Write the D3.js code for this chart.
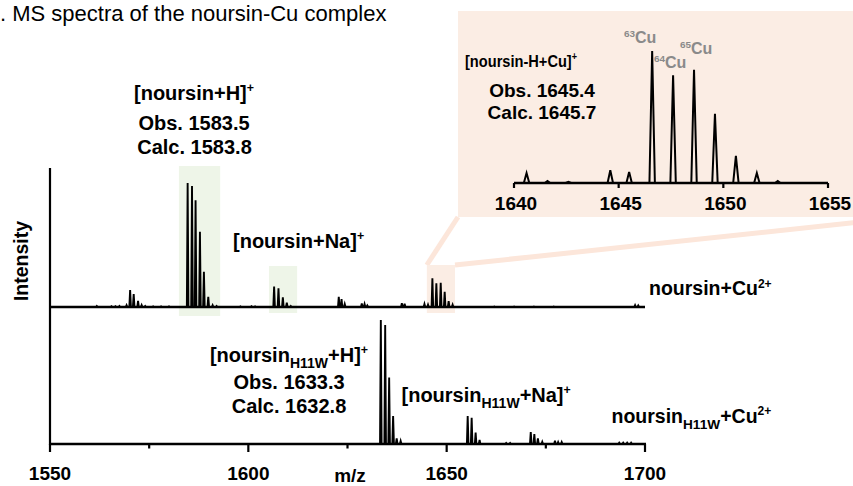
<!DOCTYPE html>
<html><head><meta charset="utf-8">
<script src="https://cdn.jsdelivr.net/npm/d3@7"></script>
<style>
body{margin:0;background:#fff}
svg{display:block}
text{font-family:"Liberation Sans",Arial,Helvetica,sans-serif}
</style>
</head><body>
<svg id="c" width="853" height="486"></svg>
<script>
// ---------------- data ----------------
const xMajorTicks = [1550, 1600, 1650, 1700];
const xMinorTicks = [1575, 1625, 1675];
const insetTicks = [1640, 1645, 1650, 1655];

// noursin + Cu2+ (upper trace), relative intensity
const topMz  = [1561.8,1565.5,1566.5,1567.5,1569.3,1570.2,1571.1,1572.2,1573.1,1574.0,1576.0,1578.0,1580.0,
                1584.7,1585.8,1586.7,1587.8,1588.8,1589.9,1591.0,1592.0,1598.0,1600.8,1601.7,
                1606.5,1607.6,1608.7,1609.7,1610.7,1622.8,1623.5,1624.3,1628.6,1629.3,1630.0,1638.7,1639.4,
                1644.4,1645.3,1646.4,1647.4,1648.5,1649.5,1650.5,1651.5,1662.0,1667.0,1672.0,1677.0,1697.5,1698.3];
const topInt = [0.8,0.6,0.6,0.8,1.5,13.7,10.5,5.0,1.6,0.8,0.5,0.5,0.5,
                100,97.5,86,60.7,28.4,8.3,1.5,0.8,0.5,0.6,0.5,
                16.4,15.0,7.8,3.5,0.8,8.3,6.4,2.4,2.8,2.4,1.2,3.0,2.7,
                2.4,1.9,23.1,19.1,19.6,12.3,4.8,1.9,0.4,0.4,0.4,0.4,1.5,1.2];

// noursin H11W + Cu2+ (lower trace)
const botMz  = [1633.4,1634.5,1635.5,1636.5,1637.4,1638.4,1655.3,1656.3,1657.3,1658.3,1665.0,1666.0,
                1671.2,1672.1,1673.0,1674.1,1677.3,1678.1,1679.0,1693.5,1694.5,1695.5,1696.5];
const botInt = [99.6,95.6,53.3,22.5,4.6,2.4,22.5,21.1,9.1,3.2,0.8,0.8,
                9.6,8.0,4.6,1.8,2.7,1.6,1.6,1.0,1.0,1.0,1.0];

// inset: [noursin-H+Cu]+ isotope pattern
const insetMz  = [1640.6,1641.6,1642.6,1644.6,1645.5,1646.6,1647.6,1648.6,1649.6,1650.6,1651.6,1652.6];
const insetInt = [7.6,1.5,0.8,9.6,8.3,100,81.6,85.8,52.5,20.5,7.6,1.5];

// highlighted m/z windows
const greenBoxes = [[1582.5, 1592.9], [1605.2, 1612.3]];
const peachBox = [1645.0, 1652.1];

// ---------------- drawing ----------------
const svg = d3.select("#c");
const BLACK = "#000";
const PEACH = "#fbede4";
const PEACH_LINE = "#fce6da";
const GREEN = "#eef5e8";
const GREY = "#8a8a8a";

const x = d3.scaleLinear().domain([1550, 1700]).range([50, 645]);
const yTop = d3.scaleLinear().domain([0, 112]).range([307, 168]);
const yBot = d3.scaleLinear().domain([0, 110]).range([444, 307]);
const xi = d3.scaleLinear().domain([1640, 1655]).range([514, 828]);
const yi = d3.scaleLinear().domain([0, 100]).range([183, 51]);

function richText(g, px, py, parts, fs, opts = {}) {
  const t = g.append("text")
    .attr("x", px).attr("y", py)
    .attr("font-size", fs)
    .attr("font-weight", opts.weight || "bold")
    .attr("fill", opts.fill || BLACK)
    .attr("text-anchor", opts.anchor || "start");
  let off = 0;
  parts.forEach(p => {
    const s = typeof p === "string" ? [p, ""] : p;
    let target = 0, size = fs;
    if (s[1] === "sup") { target = -fs * 0.38; size = fs * 0.62; }
    if (s[1] === "sub") { target = fs * 0.3; size = fs * 0.7; }
    t.append("tspan").attr("font-size", size).attr("dy", target - off).text(s[0]);
    off = target;
  });
  return t;
}

// inset background + connectors
const gBack = svg.append("g");
gBack.append("rect").attr("x", 458).attr("y", 11).attr("width", 420).attr("height", 206).attr("fill", PEACH);
const pbTop = 265;
gBack.append("line").attr("x1", x(peachBox[0])).attr("y1", pbTop).attr("x2", 458).attr("y2", 217)
  .attr("stroke", PEACH_LINE).attr("stroke-width", 5);
gBack.append("line").attr("x1", x(peachBox[1])).attr("y1", pbTop).attr("x2", 870).attr("y2", 221)
  .attr("stroke", PEACH_LINE).attr("stroke-width", 5);
gBack.append("rect").attr("x", x(peachBox[0])).attr("y", pbTop)
  .attr("width", x(peachBox[1]) - x(peachBox[0])).attr("height", 313 - pbTop).attr("fill", PEACH);

// green highlight boxes
const gTops = [166, 266];
greenBoxes.forEach((b, i) => {
  gBack.append("rect").attr("x", x(b[0])).attr("y", gTops[i])
    .attr("width", x(b[1]) - x(b[0])).attr("height", (i === 0 ? 316 : 313) - gTops[i]).attr("fill", GREEN);
});

// spectrum path builder
function spectrumPath(mz, inten, xs, ys, x0, x1, w) {
  const idx = d3.range(mz.length).sort((a, b) => mz[a] - mz[b]);
  const p = d3.path();
  p.moveTo(xs(x0), ys(0));
  idx.forEach(i => {
    p.lineTo(xs(mz[i] - w), ys(0));
    p.lineTo(xs(mz[i]), ys(inten[i]));
    p.lineTo(xs(mz[i] + w), ys(0));
  });
  p.lineTo(xs(x1), ys(0));
  return p.toString();
}

// axes
const gAx = svg.append("g");
gAx.append("line").attr("x1", x(1550)).attr("x2", x(1550)).attr("y1", 168).attr("y2", yBot(0) + 1)
  .attr("stroke", BLACK).attr("stroke-width", 2.2);
gAx.append("line").attr("x1", x(1550) - 1).attr("x2", x(1700) + 1).attr("y1", yBot(0)).attr("y2", yBot(0))
  .attr("stroke", BLACK).attr("stroke-width", 2.5);
xMajorTicks.forEach(v => {
  gAx.append("line").attr("x1", x(v)).attr("x2", x(v)).attr("y1", yBot(0)).attr("y2", yBot(0) + 8)
    .attr("stroke", BLACK).attr("stroke-width", 2.2);
  gAx.append("text").attr("x", x(v)).attr("y", 480).attr("text-anchor", "middle")
    .attr("font-size", 19).attr("font-weight", "bold").text(v);
});
xMinorTicks.forEach(v => {
  gAx.append("line").attr("x1", x(v)).attr("x2", x(v)).attr("y1", yBot(0)).attr("y2", yBot(0) + 4.5)
    .attr("stroke", BLACK).attr("stroke-width", 2.2);
});
gAx.append("text").attr("x", 350).attr("y", 481.5).attr("text-anchor", "middle")
  .attr("font-size", 19).attr("font-weight", "bold").text("m/z");
gAx.append("text").attr("transform", "translate(28,261) rotate(-90)").attr("text-anchor", "middle")
  .attr("font-size", 19.5).attr("font-weight", "bold").text("Intensity");

// spectra
svg.append("path").attr("d", spectrumPath(topMz, topInt, x, yTop, 1550, 1700, 0.2))
  .attr("fill", "none").attr("stroke", BLACK).attr("stroke-width", 1.9).attr("stroke-linejoin", "miter");
svg.append("line").attr("x1", x(1550)).attr("x2", x(1700)).attr("y1", yTop(0)).attr("y2", yTop(0))
  .attr("stroke", BLACK).attr("stroke-width", 2.5);
svg.append("path").attr("d", spectrumPath(botMz, botInt, x, yBot, 1550, 1700, 0.2))
  .attr("fill", "none").attr("stroke", BLACK).attr("stroke-width", 1.9);

// inset
const gIn = svg.append("g");
gIn.append("path").attr("d", spectrumPath(insetMz, insetInt, xi, yi, 1640, 1655, 0.13))
  .attr("fill", "none").attr("stroke", BLACK).attr("stroke-width", 2);
gIn.append("line").attr("x1", xi(1640)).attr("x2", xi(1655)).attr("y1", yi(0)).attr("y2", yi(0))
  .attr("stroke", BLACK).attr("stroke-width", 2.5);
insetTicks.forEach(v => {
  gIn.append("line").attr("x1", xi(v)).attr("x2", xi(v)).attr("y1", yi(0)).attr("y2", yi(0) + 5)
    .attr("stroke", BLACK).attr("stroke-width", 2.2);
  gIn.append("text").attr("x", xi(v) + 2).attr("y", 210).attr("text-anchor", "middle")
    .attr("font-size", 19).attr("font-weight", "bold").text(v);
});
const gLab = gIn.append("g").attr("transform", "translate(465,66.5) scale(0.86,1)");
richText(gLab, 0, 0, ["[noursin-H+Cu]", ["+", "sup"]], 17);
richText(gIn, 542, 96.5, ["Obs. 1645.4"], 19, {anchor: "middle"});
richText(gIn, 542, 119.3, ["Calc. 1645.7"], 19, {anchor: "middle"});
richText(gIn, 624, 43.3, [["63", "sup"], "Cu"], 16, {fill: GREY});
richText(gIn, 654, 68.3, [["64", "sup"], "Cu"], 16, {fill: GREY});
richText(gIn, 680, 54.3, [["65", "sup"], "Cu"], 16, {fill: GREY});

// annotations main
const gT = svg.append("g");
richText(gT, 134, 99.5, ["[noursin+H]", ["+", "sup"]], 20);
richText(gT, 194, 130, ["Obs. 1583.5"], 20, {anchor: "middle"});
richText(gT, 194.5, 153.5, ["Calc. 1583.8"], 20, {anchor: "middle"});
richText(gT, 233, 248, ["[noursin+Na]", ["+", "sup"]], 20);
richText(gT, 649, 295, ["noursin+Cu", ["2+", "sup"]], 19.5);
richText(gT, 289, 362, ["[noursin", ["H11W", "sub"], "+H]", ["+", "sup"]], 20, {anchor: "middle"});
richText(gT, 289, 389.3, ["Obs. 1633.3"], 20, {anchor: "middle"});
richText(gT, 289, 413, ["Calc. 1632.8"], 20, {anchor: "middle"});
richText(gT, 401.5, 401.5, ["[noursin", ["H11W", "sub"], "+Na]", ["+", "sup"]], 20);
richText(gT, 611.5, 422.7, ["noursin", ["H11W", "sub"], "+Cu", ["2+", "sup"]], 19.5);

// title (starts at the left edge as in the source)
svg.append("text").attr("x", 0).attr("y", 20.5).attr("font-size", 22)
  .attr("font-weight", "normal").text(". MS spectra of the noursin-Cu complex");
</script>
</body></html>
